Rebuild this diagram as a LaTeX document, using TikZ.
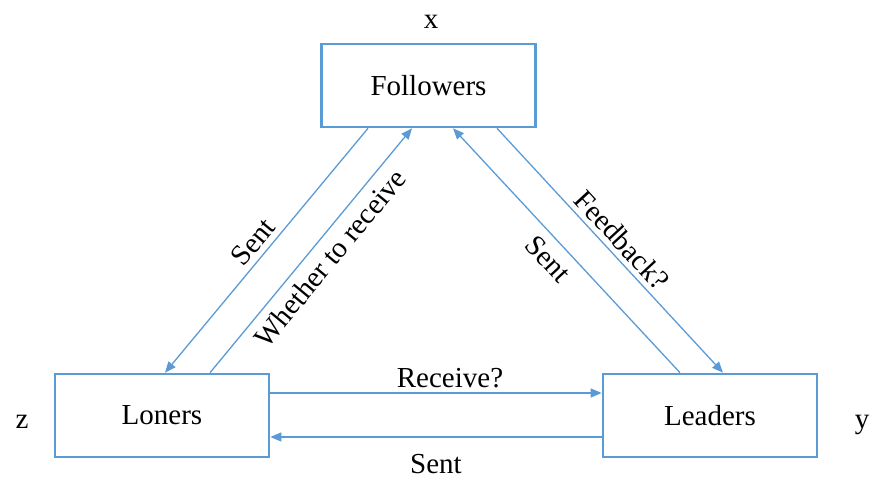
\documentclass[tikz,border=0pt]{standalone}
\usepackage{fontspec}
\setmainfont{Liberation Serif}
\usetikzlibrary{calc,arrows.meta}
\definecolor{ofblue}{HTML}{5B9BD5}
\tikzset{
  box/.style={draw=ofblue, line width=2.6pt, rectangle, minimum width=214pt, minimum height=83pt, inner sep=0pt, font=\fontsize{29}{34}\selectfont},
  conn/.style={draw=ofblue, line width=1.3pt, -{Triangle[length=11pt,width=9pt]}},
  lbl/.style={font=\fontsize{29}{34}\selectfont, inner sep=0pt}
}
\begin{document}
\begin{tikzpicture}[x=1pt,y=-1pt]
\useasboundingbox (0,0) rectangle (872,479);
\node[box] (fol) at (428.5,85.5) {Followers};
\node[box] (lon) at (162,415.5) {Loners};
\node[box] (lea) at (710,415.5) {Leaders};
\node[lbl, anchor=base] (xl) at (431,28) {x};
\node[lbl, anchor=base] (zl) at (22,428) {z};
\node[lbl, anchor=base] (yl) at (862,428) {y};
% diagonal connectors
\draw[conn] ($(fol.south)+(-60.5,0)$) -- ($(lon.north)+(3,0)$);
\draw[conn] ($(lon.north)+(48,0)$) -- ($(fol.south)+(-16.5,0)$);
\draw[conn] ($(lea.north)+(-30,0)$) -- ($(fol.south)+(24.5,0)$);
\draw[conn] ($(fol.south)+(68.5,0)$) -- ($(lea.north)+(13,0)$);
% horizontal connectors
\draw[conn] ($(lon.east)+(0,-22.5)$) -- ($(lea.west)+(0,-22.5)$);
\draw[conn] ($(lea.west)+(0,21.5)$) -- ($(lon.east)+(0,21.5)$);
% labels
\node[lbl, rotate=50.4] (l1) at (253,242) {Sent};
\node[lbl, rotate=50.4] (l2) at (330,258) {Whether to receive};
\node[lbl, rotate=-47.2] (l3) at (548,259) {Sent};
\node[lbl, rotate=-47.2] (l4) at (622,240) {Feedback?};
\node[lbl, anchor=base] (l5) at (450,387) {Receive?};
\node[lbl, anchor=base] (l6) at (436,473) {Sent};
\end{tikzpicture}
\end{document}
